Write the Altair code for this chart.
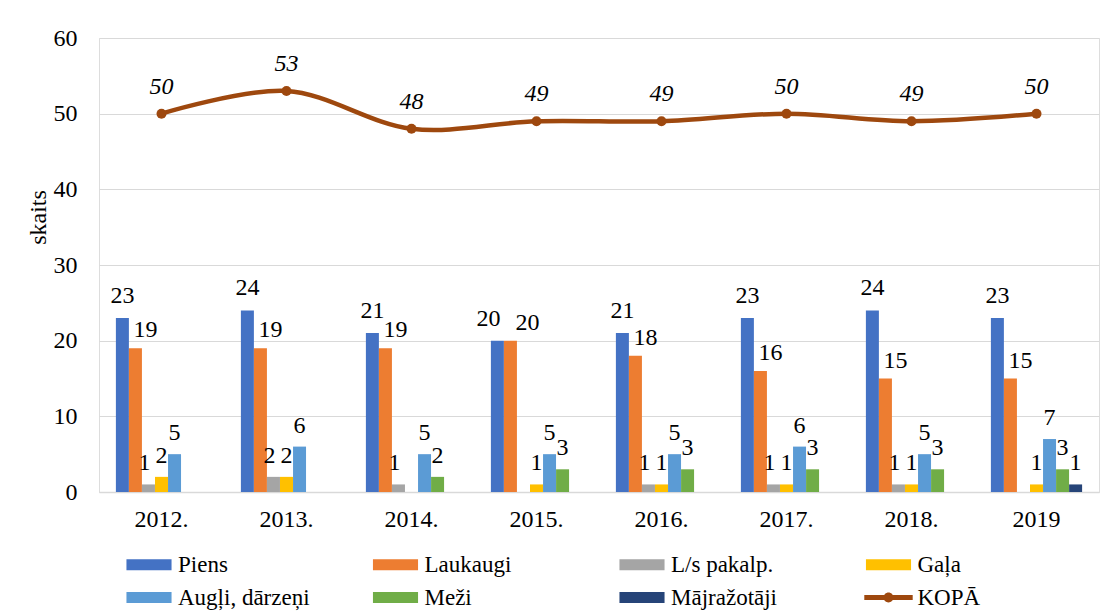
import altair as alt
import pandas as pd

years = ["2012.", "2013.", "2014.", "2015.", "2016.", "2017.", "2018.", "2019"]
series = ["Piens", "Laukaugi", "L/s pakalp.", "Gaļa", "Augļi, dārzeņi", "Meži", "Mājražotāji"]
piens = [23, 24, 21, 20, 21, 23, 24, 23]
laukaugi = [19, 19, 19, 20, 18, 16, 15, 15]
ls_pakalp = [1, 2, 1, 0, 1, 1, 1, 0]
gala = [2, 2, 0, 1, 1, 1, 1, 1]
augli = [5, 6, 5, 5, 5, 6, 5, 7]
mezi = [0, 0, 2, 3, 3, 3, 3, 3]
majrazotaji = [0, 0, 0, 0, 0, 0, 0, 1]
kopa = [50, 53, 48, 49, 49, 50, 49, 50]
total_name = "KOPĀ"
colors = ["#4472C4", "#ED7D31", "#A5A5A5", "#FFC000", "#5B9BD5", "#70AD47", "#264478", "#9E480E"]

values = [piens, laukaugi, ls_pakalp, gala, augli, mezi, majrazotaji]
rows = []
for s, vals in zip(series, values):
    for i, (y, v) in enumerate(zip(years, vals)):
        # label nudge (Excel-like collision avoidance between the two tall bars)
        close = abs(piens[i] - laukaugi[i]) <= 1
        if s == "Piens":
            nudge = -9 if close else 0
        elif s == "Laukaugi":
            nudge = 17 if close else 10
        elif s == "L/s pakalp.":
            nudge = -4
        else:
            nudge = 0
        rows.append({"year": y, "series": s, "value": v, "nudge": nudge})
bars_df = pd.DataFrame(rows)
line_df = pd.DataFrame({"year": years, "series": total_name, "value": kopa})

FONT = "Liberation Serif"

rect_path = "M-2.05,-0.5L2.05,-0.5L2.05,0.5L-2.05,0.5Z"
line_path = ("M-2.2,-0.22L2.2,-0.22L2.2,0.22L-2.2,0.22Z "
             "M0.45,0A0.45,0.45 0 1,1 -0.45,0A0.45,0.45 0 1,1 0.45,0Z")
shape_signal = f"datum.value === '{total_name}' ? '{line_path}' : '{rect_path}'"

x_enc = alt.X("year:N", sort=years,
              scale=alt.Scale(domain=years, paddingInner=0.27, paddingOuter=0.135),
              axis=alt.Axis(title=None, labelAngle=0, labelFont=FONT, labelFontSize=24,
                            labelColor="#000", labelPadding=15, ticks=False,
                            domainColor="#D9D9D9", domainWidth=1.5, grid=False))
y_enc = alt.Y("value:Q",
              scale=alt.Scale(domain=[0, 60], nice=False),
              axis=alt.Axis(values=[0, 10, 20, 30, 40, 50, 60], title="skaits",
                            titleFont=FONT, titleFontSize=24, titleFontWeight="normal",
                            titleColor="#000", titleX=-54, titleY=179, titleAlign="center",
                            titleBaseline="alphabetic", labelFont=FONT, labelFontSize=24,
                            labelColor="#000", labelPadding=22, domain=False, ticks=False,
                            gridColor="#D9D9D9", gridWidth=1.2))
xoff = alt.XOffset("series:N", sort=series,
                   scale=alt.Scale(domain=series, paddingInner=0, paddingOuter=0))

color_enc = alt.Color(
    "series:N",
    scale=alt.Scale(domain=series + [total_name], range=colors),
    legend=alt.Legend(
        title=None, orient="none", direction="horizontal", legendX=38.5, legendY=515,
        columns=4, columnPadding=60.5, rowPadding=9, gridAlign="all", symbolSize=484,
        labelOffset=17.5, labelFont=FONT, labelFontSize=23, labelColor="#000",
        labelLimit=300,
        symbolType=alt.ExprRef(shape_signal),
        symbolFillColor=alt.ExprRef("scale('color', datum.value)"),
        symbolStrokeWidth=0,
        symbolOpacity=1,
    ),
)

bars = alt.Chart(bars_df).mark_bar(size=13).encode(
    x=x_enc, xOffset=xoff, y=y_enc, color=color_enc
)

def labels(filter_expr, dy):
    return alt.Chart(bars_df).transform_filter(filter_expr).mark_text(
        font=FONT, fontSize=24, color="#000", baseline="alphabetic",
        dx=alt.ExprRef("datum.nudge"), dy=dy
    ).encode(x=x_enc, xOffset=xoff, y=y_enc, text="value:Q")

lab_piens = labels("datum.value > 0 && datum.series === 'Piens'", -15)
lab_lauk = labels("datum.value > 0 && datum.series === 'Laukaugi'", -11)
lab_other = labels("datum.value > 0 && datum.series !== 'Piens' && datum.series !== 'Laukaugi'", -14)

line = alt.Chart(line_df).mark_line(strokeWidth=4.5, interpolate="catmull-rom").encode(
    x=x_enc, y=y_enc, color=color_enc
)
pts = alt.Chart(line_df).mark_point(filled=True, size=100, opacity=1).encode(
    x=x_enc, y=y_enc, color=color_enc
)
line_labels = alt.Chart(line_df).mark_text(
    font=FONT, fontSize=24, fontStyle="italic", color="#000", baseline="alphabetic", dy=-20
).encode(x=x_enc, y=y_enc, text="value:Q")

chart = alt.layer(bars, lab_piens, lab_lauk, lab_other, line, pts, line_labels).properties(
    width=1000, height=454,
    autosize=alt.AutoSizeParams(type="none"),
    padding={"left": 91, "top": 30, "right": 5, "bottom": 120},
).configure_view(stroke=None).configure(background="white")

chart.save("out.html", embed_options={"renderer": "svg", "actions": False})
